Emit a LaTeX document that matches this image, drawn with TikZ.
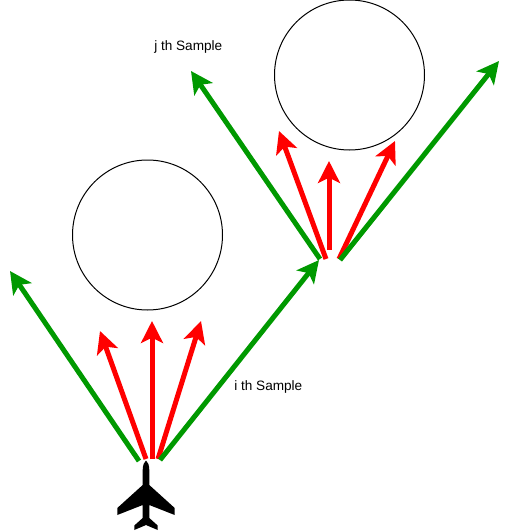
\documentclass[tikz,border=0pt]{standalone}
\usepackage{fontspec}
\setmainfont{Liberation Sans}
\usetikzlibrary{arrows.meta}
\tikzset{
    sample/.style={draw=black,circle,inner sep=0pt,minimum size=112.5pt,line width=0.75pt},
    greenray/.style={draw={rgb,255:red,0;green,153;blue,0},line width=3.75pt,-{Stealth[length=16.5pt,width=16.5pt,inset=4pt]}},
    redray/.style={draw=red,line width=3.75pt,-{Stealth[length=16.5pt,width=16.5pt,inset=4pt]}},
    caption/.style={font=\fontsize{10.2}{12}\selectfont,inner sep=0pt,anchor=base west}
}
\begin{document}
\begin{tikzpicture}[x=0.75pt,y=-0.75pt]
        \useasboundingbox (0,0) rectangle (510,532);
        %% sample circles
        \node[sample] (C1) at (147.5,235) {};
        \node[sample] (C2) at (349.5,75) {};
        %% ray ends, lower fan
        \coordinate (G1s) at (139,461);
        \coordinate (G1e) at (10,271);
        \coordinate (R1s) at (146,459);
        \coordinate (R1e) at (100,331);
        \coordinate (R2s) at (152,459);
        \coordinate (R2e) at (152,321);
        \coordinate (R3s) at (158,459);
        \coordinate (R3e) at (201,321);
        \coordinate (G2s) at (160,460);
        \coordinate (G2e) at (319,260);
        %% ray ends, upper fan
        \coordinate (G3s) at (320,259);
        \coordinate (G3e) at (191,71);
        \coordinate (R4s) at (326,259);
        \coordinate (R4e) at (279,131);
        \coordinate (R5s) at (329,250);
        \coordinate (R5e) at (329,161);
        \coordinate (R6s) at (339,259);
        \coordinate (R6e) at (395,141);
        \coordinate (G4s) at (340,260);
        \coordinate (G4e) at (499,61);
        %% lower fan
        \draw[greenray] (G1s) -- (G1e);
        \draw[redray] (R1s) -- (R1e);
        \draw[redray] (R2s) -- (R2e);
        \draw[redray] (R3s) -- (R3e);
        \draw[greenray] (G2s) -- (G2e);
        %% upper fan
        \draw[greenray] (G3s) -- (G3e);
        \draw[redray] (R4s) -- (R4e);
        \draw[redray] (R5s) -- (R5e);
        \draw[redray] (R6s) -- (R6e);
        \draw[greenray] (G4s) -- (G4e);
        %% labels
        \node[caption] (Li) at (234,390.5) {i th Sample};
        \node[caption] (Lj) at (154,50.5) {j th Sample};
        %% airplane
        \fill[black] (146,460.5) .. controls (144,462) and (142.8,465) .. (142.7,470) -- (142.7,485)
            -- (117.3,508) -- (117.3,515) -- (142.7,505) -- (142.7,518) -- (134.3,525.5) -- (134.3,530)
            -- (146,525) -- (157.7,530) -- (157.7,525.5) -- (149.3,518) -- (149.3,505) -- (174.7,515)
            -- (174.7,508) -- (149.3,485) -- (149.3,470) .. controls (149.2,465) and (148,462) .. (146,460.5) -- cycle;
    \end{tikzpicture}
\end{document}
